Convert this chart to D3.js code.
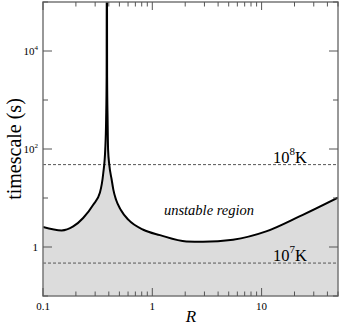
<!DOCTYPE html>
<html>
<head>
<meta charset="utf-8">
<script src="https://cdn.jsdelivr.net/npm/d3@7"></script>
<style>
  body { margin: 0; background: #fff; }
</style>
</head>
<body>
<div id="chart"></div>
<script>
// curve: R vs timescale (s)
const rValues = [0.1, 0.148, 0.189, 0.233, 0.288, 0.332, 0.356, 0.371, 0.378, 0.382, 0.384,
  0.386, 0.390, 0.394, 0.404, 0.425, 0.440, 0.466, 0.514, 0.603, 0.827, 1.175, 2.05, 2.91, 5.47, 11.0, 22.2, 50];
const timescale = [2.56, 2.18, 2.63, 3.91, 7.3, 13, 32.4, 97, 400, 3000, 1e7,
  3000, 400, 97, 47.8, 23.6, 14.8, 9.2, 5.77, 3.61, 2.25, 1.75, 1.30, 1.28, 1.41, 2.08, 4.21, 10.2];

// temperature reference lines
const tempLines = [48, 0.47];
const tempLabels = ['8', '7'];

const xTickLabels = [0.1, 1, 10];
const yTickLabels = [{ v: 1, base: '1', sup: '' }, { v: 100, base: '10', sup: '2' }, { v: 1e4, base: '10', sup: '4' }];

const width = 339, height = 327;
const mLeft = 43, mRight = 338, mTop = 2, mBottom = 296;
const serif = '"Liberation Serif", "Times New Roman", Times, serif';

const svg = d3.select('#chart').append('svg')
  .attr('width', width)
  .attr('height', height)
  .attr('font-family', serif);

const x = d3.scaleLog().domain([0.1, 50]).range([mLeft, mRight]);
const y = d3.scaleLog().domain([0.1, 1e5]).range([mBottom, mTop]);

svg.append('clipPath').attr('id', 'clip')
  .append('rect').attr('x', mLeft).attr('y', mTop)
  .attr('width', mRight - mLeft).attr('height', mBottom - mTop);

const pts = rValues.map((r, i) => [r, timescale[i]]);

const plot = svg.append('g').attr('clip-path', 'url(#clip)');

plot.append('path')
  .datum(pts)
  .attr('fill', '#dcdcdc')
  .attr('d', d3.area().x(d => x(d[0])).y0(mBottom).y1(d => y(d[1])).curve(d3.curveMonotoneX));

// dashed temperature lines
plot.selectAll('line.temp')
  .data(tempLines)
  .enter()
  .append('line')
  .attr('class', 'temp')
  .attr('x1', mLeft).attr('x2', mRight)
  .attr('y1', d => y(d)).attr('y2', d => y(d))
  .attr('stroke', '#555')
  .attr('stroke-width', 1)
  .attr('stroke-dasharray', '3,2');

plot.append('path')
  .datum(pts)
  .attr('fill', 'none')
  .attr('stroke', '#000')
  .attr('stroke-width', 2)
  .attr('d', d3.line().x(d => x(d[0])).y(d => y(d[1])).curve(d3.curveMonotoneX));

// frame
svg.append('rect')
  .attr('x', mLeft).attr('y', mTop)
  .attr('width', mRight - mLeft).attr('height', mBottom - mTop)
  .attr('fill', 'none')
  .attr('stroke', '#777')
  .attr('stroke-width', 1.5);

// x ticks (inward, top and bottom)
const xTicks = [];
for (let d = 0.1; d < 100; d *= 10) {
  for (let k = 1; k < 10; k++) {
    const v = +(d * k).toPrecision(3);
    if (v >= 0.1 && v <= 50) xTicks.push({ v, major: k === 1 });
  }
}
const tickG = svg.append('g').attr('stroke', '#555').attr('stroke-width', 1);
xTicks.forEach(t => {
  const len = t.major ? 8 : 4.5;
  tickG.append('line').attr('x1', x(t.v)).attr('x2', x(t.v)).attr('y1', mBottom).attr('y2', mBottom - len);
  tickG.append('line').attr('x1', x(t.v)).attr('x2', x(t.v)).attr('y1', mTop).attr('y2', mTop + len);
});

// y ticks each decade (inward, left and right)
const yTicks = d3.range(-1, 6).map(e => Math.pow(10, e));
yTicks.forEach(v => {
  const len = yTickLabels.some(l => l.v === v) ? 9 : 5;
  tickG.append('line').attr('x1', mLeft).attr('x2', mLeft + len).attr('y1', y(v)).attr('y2', y(v));
  tickG.append('line').attr('x1', mRight).attr('x2', mRight - len).attr('y1', y(v)).attr('y2', y(v));
});

// tick labels
svg.selectAll('text.xl')
  .data(xTickLabels)
  .enter()
  .append('text')
  .attr('x', d => x(d))
  .attr('y', 310)
  .attr('text-anchor', 'middle')
  .attr('font-size', 11)
  .text(d => d);

yTickLabels.forEach(l => {
  const t = svg.append('text')
    .attr('x', 38)
    .attr('y', y(l.v) + 4)
    .attr('text-anchor', 'end')
    .attr('font-size', 11);
  t.append('tspan').text(l.base);
  if (l.sup) t.append('tspan').attr('dy', -5).attr('font-size', 7).text(l.sup);
});

// axis titles
svg.append('text')
  .attr('transform', 'translate(21,149) rotate(-90)')
  .attr('text-anchor', 'middle')
  .attr('font-size', 20)
  .text('timescale (s)');

svg.append('text')
  .attr('x', 191)
  .attr('y', 322)
  .attr('text-anchor', 'middle')
  .attr('font-size', 17)
  .attr('font-style', 'italic')
  .text('R');

svg.append('text')
  .attr('x', 209)
  .attr('y', 215)
  .attr('text-anchor', 'middle')
  .attr('font-size', 14.5)
  .attr('font-style', 'italic')
  .text('unstable region');

// temperature labels
tempLines.forEach((v, i) => {
  const t = svg.append('text')
    .attr('x', 273)
    .attr('y', y(v) - 2)
    .attr('font-size', 16.5);
  t.append('tspan').text('10');
  t.append('tspan').attr('dy', -8).attr('font-size', 11).text(tempLabels[i]);
  t.append('tspan').attr('dy', 8).text('K');
});
</script>
</body>
</html>
